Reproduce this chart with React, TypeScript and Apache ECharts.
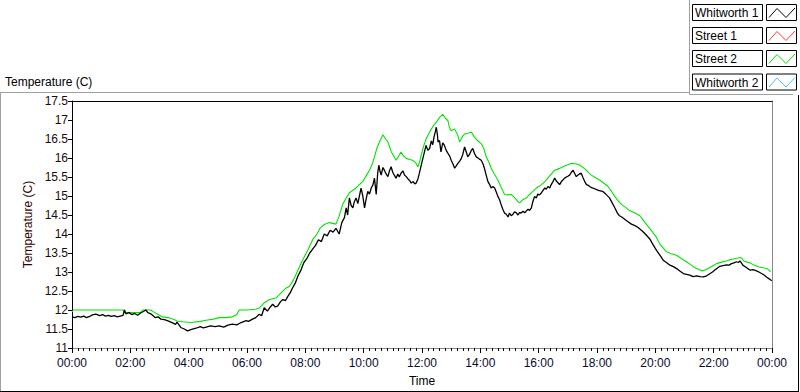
import React, { useEffect, useRef } from "react";
import * as echarts from "echarts";

// Whitworth 1 (black) — hours since midnight, temperature (C)
const w1Hours = [0.00,0.10,0.20,0.30,0.40,0.50,0.60,0.70,0.82,0.95,1.05,1.15,1.25,1.35,1.45,1.55,1.65,1.75,1.80,1.85,1.95,2.05,2.15,2.25,2.35,2.45,2.53,2.60,2.70,2.85,2.95,3.05,3.20,3.33,3.45,3.55,3.60,3.73,3.85,3.96,4.10,4.25,4.40,4.50,4.60,4.75,4.90,5.05,5.20,5.35,5.50,5.65,5.80,5.97,6.05,6.19,6.30,6.42,6.50,6.59,6.70,6.80,6.88,6.97,7.05,7.15,7.22,7.32,7.40,7.48,7.56,7.65,7.75,7.85,7.95,8.05,8.15,8.25,8.35,8.45,8.55,8.65,8.75,8.85,8.95,9.05,9.16,9.25,9.34,9.40,9.45,9.51,9.57,9.63,9.68,9.74,9.80,9.91,9.97,10.03,10.08,10.14,10.20,10.26,10.32,10.37,10.43,10.48,10.52,10.56,10.60,10.66,10.71,10.77,10.83,10.88,10.94,11.00,11.05,11.11,11.17,11.22,11.28,11.35,11.40,11.46,11.52,11.58,11.63,11.70,11.75,11.80,11.86,11.91,11.97,12.03,12.08,12.14,12.20,12.26,12.32,12.37,12.41,12.46,12.49,12.53,12.55,12.60,12.65,12.71,12.77,12.83,12.89,12.95,13.00,13.06,13.12,13.18,13.23,13.29,13.35,13.40,13.46,13.52,13.57,13.63,13.69,13.74,13.80,13.86,13.92,13.97,14.03,14.09,14.14,14.20,14.26,14.32,14.37,14.43,14.49,14.55,14.60,14.66,14.71,14.77,14.83,14.89,14.95,15.00,15.06,15.12,15.17,15.23,15.29,15.35,15.40,15.46,15.52,15.58,15.64,15.69,15.75,15.80,15.86,15.92,15.97,16.03,16.09,16.15,16.21,16.26,16.32,16.38,16.43,16.49,16.55,16.60,16.66,16.72,16.78,16.83,16.89,16.95,17.00,17.06,17.12,17.18,17.23,17.29,17.35,17.40,17.46,17.52,17.58,17.64,17.70,17.75,17.81,17.86,17.95,18.05,18.15,18.20,18.30,18.43,18.52,18.61,18.70,18.77,18.86,18.95,19.05,19.18,19.30,19.41,19.55,19.68,19.81,19.92,20.04,20.15,20.27,20.38,20.50,20.62,20.73,20.85,20.96,21.07,21.18,21.30,21.42,21.53,21.65,21.76,21.88,21.96,22.04,22.12,22.21,22.32,22.44,22.53,22.61,22.70,22.78,22.85,22.90,22.95,23.00,23.12,23.24,23.35,23.47,23.55,23.64,23.73,23.82,23.90,23.99];
const w1Temps = [11.82,11.80,11.83,11.81,11.84,11.80,11.83,11.87,11.89,11.85,11.88,11.84,11.86,11.83,11.85,11.82,11.84,11.86,12.00,11.90,11.93,11.88,11.91,11.86,11.92,11.96,12.00,11.93,11.90,11.80,11.82,11.76,11.74,11.70,11.66,11.62,11.68,11.54,11.50,11.45,11.49,11.52,11.56,11.53,11.55,11.58,11.56,11.58,11.55,11.60,11.63,11.61,11.67,11.72,11.70,11.76,11.80,11.89,11.85,12.06,11.97,12.08,12.15,12.08,12.10,12.22,12.27,12.25,12.36,12.45,12.58,12.70,12.90,13.05,13.25,13.35,13.50,13.60,13.70,13.85,13.80,14.00,13.95,14.10,14.05,14.15,14.00,14.30,14.43,14.69,14.50,14.95,14.75,14.69,14.85,14.95,14.80,15.21,15.00,14.69,14.90,15.12,15.05,15.21,15.30,15.47,15.04,15.60,15.81,15.65,15.55,15.75,15.68,15.58,15.51,15.65,15.77,15.62,15.55,15.47,15.58,15.50,15.60,15.66,15.55,15.51,15.45,15.40,15.34,15.38,15.32,15.34,15.45,15.60,15.80,15.99,16.15,16.33,16.20,16.25,16.45,16.35,16.55,16.70,16.81,16.60,16.42,16.46,16.16,16.40,16.33,16.20,16.12,16.05,15.94,15.85,15.73,15.80,15.86,15.92,15.99,16.10,16.29,16.15,16.03,16.10,16.20,16.25,16.12,16.03,16.00,15.97,15.94,15.85,15.73,15.55,15.38,15.30,15.21,15.25,15.21,15.10,14.99,14.90,14.78,14.65,14.55,14.52,14.45,14.55,14.48,14.52,14.58,14.56,14.50,14.57,14.55,14.60,14.56,14.61,14.65,14.62,14.69,14.85,14.99,14.95,15.05,15.03,15.08,15.15,15.21,15.18,15.25,15.21,15.30,15.38,15.47,15.40,15.35,15.30,15.38,15.42,15.47,15.50,15.52,15.55,15.62,15.68,15.60,15.51,15.55,15.58,15.60,15.48,15.38,15.30,15.28,15.25,15.22,15.21,15.18,15.15,15.13,15.12,15.05,14.95,14.82,14.69,14.55,14.48,14.44,14.39,14.33,14.26,14.22,14.17,14.08,13.98,13.87,13.72,13.57,13.45,13.31,13.25,13.18,13.14,13.09,13.02,12.96,12.94,12.92,12.88,12.90,12.88,12.87,12.90,12.96,13.00,13.05,13.10,13.15,13.17,13.19,13.18,13.22,13.24,13.27,13.25,13.29,13.24,13.18,13.12,13.05,13.06,13.03,13.00,12.96,12.92,12.86,12.82,12.77];

// Street 2 (green)
const s2Hours = [0.00,0.05,0.80,1.78,1.80,2.35,2.42,2.70,2.80,2.95,3.10,3.30,3.50,3.60,3.80,4.10,4.40,4.60,4.85,5.05,5.30,5.50,5.65,5.73,6.00,6.30,6.42,6.59,6.76,7.00,7.17,7.34,7.45,7.60,7.75,7.90,8.00,8.10,8.25,8.40,8.50,8.65,8.82,9.05,9.15,9.28,9.40,9.51,9.62,9.74,9.85,9.97,10.10,10.20,10.30,10.37,10.45,10.54,10.66,10.75,10.83,10.95,11.03,11.11,11.20,11.28,11.37,11.46,11.57,11.68,11.78,11.86,11.92,11.97,12.05,12.14,12.24,12.32,12.42,12.49,12.60,12.71,12.80,12.89,12.94,13.00,13.12,13.23,13.29,13.40,13.46,13.57,13.69,13.80,13.90,14.03,14.12,14.20,14.30,14.37,14.48,14.60,14.72,14.83,14.95,15.06,15.18,15.29,15.35,15.45,15.58,15.69,15.80,15.92,16.10,16.26,16.40,16.55,16.70,16.83,17.00,17.12,17.30,17.41,17.58,17.70,17.81,17.95,18.09,18.25,18.38,18.50,18.61,18.72,18.84,18.98,19.13,19.30,19.47,19.65,19.85,20.04,20.15,20.38,20.55,20.73,20.90,21.07,21.20,21.30,21.45,21.59,21.70,21.81,21.95,22.10,22.27,22.44,22.55,22.67,22.80,22.90,22.97,23.03,23.15,23.24,23.40,23.53,23.70,23.82,23.90,23.95];
const s2Temps = [11.95,12.00,12.00,12.00,11.93,11.93,12.00,12.00,11.95,11.88,11.82,11.80,11.75,11.71,11.69,11.67,11.70,11.73,11.76,11.80,11.80,11.82,11.88,12.00,12.00,12.02,12.05,12.19,12.27,12.32,12.45,12.58,12.62,12.80,13.05,13.30,13.45,13.60,13.85,14.00,14.15,14.25,14.30,14.26,14.45,14.78,14.95,15.08,15.15,15.21,15.30,15.38,15.55,15.68,15.85,16.03,16.25,16.42,16.61,16.50,16.42,16.16,16.05,15.94,16.05,16.16,16.05,15.99,15.96,15.94,15.88,15.77,15.90,16.07,16.30,16.50,16.65,16.76,16.88,16.94,17.07,17.15,17.05,16.98,16.80,16.72,16.76,16.59,16.42,16.58,16.63,16.65,16.68,16.55,16.46,16.38,16.25,16.03,15.88,15.73,15.58,15.42,15.22,15.04,15.03,15.04,14.95,14.85,14.82,14.90,14.95,15.04,15.12,15.21,15.30,15.42,15.55,15.68,15.72,15.77,15.82,15.86,15.84,15.81,15.72,15.62,15.55,15.48,15.42,15.33,15.25,15.12,14.99,14.88,14.78,14.70,14.61,14.55,14.48,14.30,14.10,13.91,13.74,13.53,13.48,13.44,13.35,13.27,13.20,13.14,13.08,13.03,13.05,13.09,13.15,13.22,13.26,13.29,13.32,13.34,13.36,13.38,13.36,13.29,13.26,13.24,13.18,13.14,13.11,13.09,13.05,13.00];

// Street 1 and Whitworth 2 carry no visible samples
const s1Hours: number[] = [];
const s1Temps: number[] = [];
const w2Hours: number[] = [];
const w2Temps: number[] = [];

const seriesNames = ["Whitworth 1", "Street 1", "Street 2", "Whitworth 2"];
const seriesColors = ["#000000", "#ff3b3b", "#00e400", "#3cc4ff"];

const yTicks = { min: 11, max: 17.5, step: 0.5 };
const xTicks = { min: 0, max: 24, step: 2 };

const pair = (xs: number[], ys: number[]) => xs.map((x, i) => [x, ys[i]]);

const FONT = "Liberation Sans";

export default function App() {
  const ref = useRef<HTMLDivElement>(null);
  useEffect(() => {
    if (!ref.current) return;
    const chart = echarts.init(ref.current, undefined, { renderer: "svg" });
    const data = [pair(w1Hours, w1Temps), pair(s1Hours, s1Temps), pair(s2Hours, s2Temps), pair(w2Hours, w2Temps)];
    const legendRows = [4.5, 27.5, 50.5, 74];
    const legendGraphics: any[] = [];
    seriesNames.forEach((name, i) => {
      const top = legendRows[i];
      legendGraphics.push({
        type: "rect",
        shape: { x: 692.5, y: top, width: 70, height: 16 },
        style: { fill: "#fff", stroke: "#000", lineWidth: 1 },
      });
      legendGraphics.push({
        type: "text",
        x: 695,
        y: top + 8.5,
        style: { text: name, fill: "#000", font: `12px "${FONT}"`, textVerticalAlign: "middle" },
      });
      legendGraphics.push({
        type: "rect",
        shape: { x: 766.5, y: top, width: 30, height: 16 },
        style: { fill: "#fff", stroke: "#000", lineWidth: 1 },
      });
      legendGraphics.push({
        type: "polyline",
        shape: {
          points: [
            [769, top + 13],
            [777, top + 4],
            [786, top + 13],
            [795, top + 3.5],
          ],
        },
        style: { stroke: seriesColors[i], lineWidth: 1, fill: "none" },
      });
    });

    chart.setOption({
      animation: false,
      backgroundColor: "#ffffff",
      grid: { left: 72, top: 101, right: 28, bottom: 39.5, containLabel: false },
      xAxis: [
        {
          type: "value",
          min: xTicks.min,
          max: xTicks.max,
          interval: xTicks.step,
          name: "Time",
          nameLocation: "middle",
          nameGap: 27,
          nameTextStyle: { fontFamily: FONT, fontSize: 12, color: "#000" },
          axisLine: { lineStyle: { color: "#888", width: 1 } },
          axisTick: { show: true, length: 5, lineStyle: { color: "#000" } },
          minorTick: { show: true, splitNumber: 10, length: 3, lineStyle: { color: "#000" } },
          axisLabel: {
            fontFamily: FONT,
            fontSize: 12,
            color: "#0a0a30",
            margin: 9,
            formatter: (v: number) => String(Math.round(v) % 24).padStart(2, "0") + ":00",
          },
          splitLine: { show: false },
        },
        {
          type: "value",
          position: "top",
          min: xTicks.min,
          max: xTicks.max,
          axisLine: { show: true, onZero: false, lineStyle: { color: "#000", width: 1 } },
          axisTick: { show: false },
          axisLabel: { show: false },
          splitLine: { show: false },
        },
      ],
      yAxis: [
        {
          type: "value",
          min: yTicks.min,
          max: yTicks.max,
          interval: yTicks.step,
          name: "Temperature (C)",
          nameLocation: "middle",
          nameGap: 37,
          nameTextStyle: { fontFamily: FONT, fontSize: 12, color: "#300000" },
          axisLine: { show: true, lineStyle: { color: "#000", width: 1 } },
          axisTick: { show: true, length: 4, lineStyle: { color: "#000" } },
          axisLabel: { fontFamily: FONT, fontSize: 12, color: "#1a0a10", margin: 4 },
          splitLine: { show: false },
        },
        {
          type: "value",
          position: "right",
          min: yTicks.min,
          max: yTicks.max,
          axisLine: { show: true, onZero: false, lineStyle: { color: "#888", width: 1 } },
          axisTick: { show: false },
          axisLabel: { show: false },
          splitLine: { show: false },
        },
      ],
      series: seriesNames.map((name, i) => ({
        name,
        type: "line",
        data: data[i],
        xAxisIndex: 0,
        yAxisIndex: 0,
        showSymbol: false,
        symbol: "none",
        lineStyle: { color: seriesColors[i], width: i === 0 ? 1.3 : 1.1 },
        itemStyle: { color: seriesColors[i] },
        z: i === 0 ? 3 : 2,
      })),
      graphic: [
        {
          type: "text",
          x: 5,
          y: 76,
          style: { text: "Temperature (C)", fill: "#000", font: `12px "${FONT}"` },
        },
        { type: "line", shape: { x1: 0, y1: 92.5, x2: 689.5, y2: 92.5 }, style: { stroke: "#a0a0a0", lineWidth: 1 } },
        { type: "line", shape: { x1: 689.5, y1: 0, x2: 689.5, y2: 94.5 }, style: { stroke: "#a0a0a0", lineWidth: 1 } },
        { type: "line", shape: { x1: 689.5, y1: 94.5, x2: 793, y2: 94.5 }, style: { stroke: "#a0a0a0", lineWidth: 1 } },
        { type: "line", shape: { x1: 0.5, y1: 92.5, x2: 0.5, y2: 391.5 }, style: { stroke: "#a0a0a0", lineWidth: 1 } },
        { type: "line", shape: { x1: 0, y1: 391.5, x2: 799, y2: 391.5 }, style: { stroke: "#000", lineWidth: 1 } },
        { type: "line", shape: { x1: 798.5, y1: 95, x2: 798.5, y2: 391.5 }, style: { stroke: "#000", lineWidth: 1 } },
        ...legendGraphics,
      ],
    });
    return () => chart.dispose();
  }, []);
  return <div ref={ref} style={{ width: 800, height: 392, position: "absolute", left: 0, top: 0 }} />;
}
